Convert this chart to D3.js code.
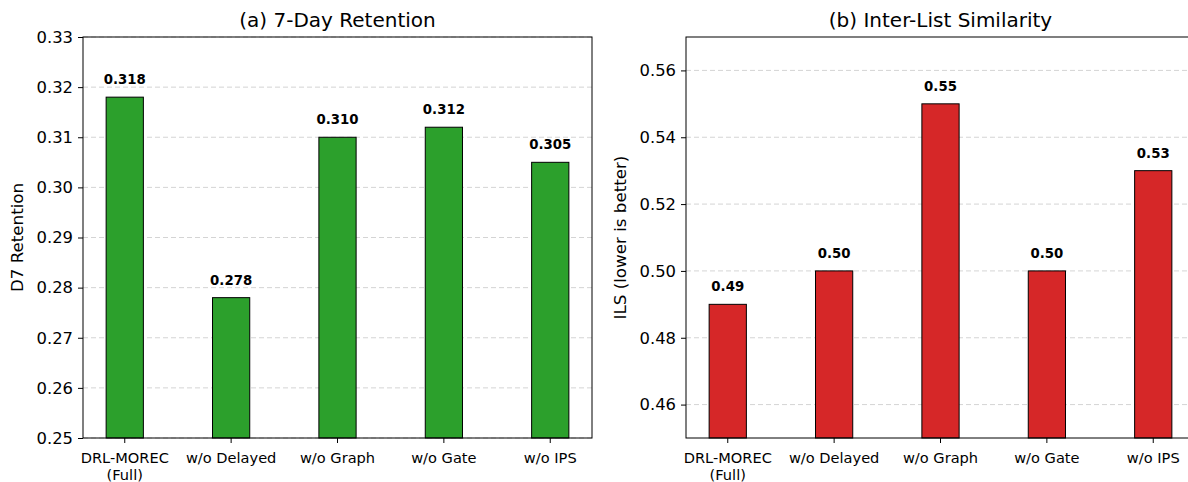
<!DOCTYPE html>
<html>
<head>
<meta charset="utf-8">
<script src="https://cdn.jsdelivr.net/npm/d3@7"></script>
<style>
  body { margin: 0; background: #fff; }
  svg { display: block; font-family: "DejaVu Sans", sans-serif; }
</style>
</head>
<body>
<div id="chart"></div>
<script>
const CATEGORIES = ["DRL-MOREC\n(Full)", "w/o Delayed", "w/o Graph", "w/o Gate", "w/o IPS"];
const RETENTION = [0.318, 0.278, 0.310, 0.312, 0.305];
const ILS = [0.49, 0.50, 0.55, 0.50, 0.53];
const RETENTION_TICKS = [0.25, 0.26, 0.27, 0.28, 0.29, 0.30, 0.31, 0.32, 0.33];
const ILS_TICKS = [0.46, 0.48, 0.50, 0.52, 0.54, 0.56];

var W = 1188, H = 482;
var svg = d3.select("#chart").append("svg")
  .attr("width", W).attr("height", H);

// one panel = one matplotlib-style axes box
function panel(opts) {
  var left = opts.left, top = 37, width = 509, height = 401;
  var g = svg.append("g").attr("transform", "translate(" + left + "," + top + ")");

  var x = d3.scaleBand()
    .domain(d3.range(CATEGORIES.length))
    .range([0, width])
    .paddingInner(0.65)
    .paddingOuter(0.2175);
  var y = d3.scaleLinear().domain(opts.domain).range([height, 0]);

  // dashed grid behind bars
  g.selectAll(".grid").data(opts.ticks).enter().append("line")
    .attr("x1", 0).attr("x2", width)
    .attr("y1", d => y(d)).attr("y2", d => y(d))
    .attr("stroke", "#cfcfcf").attr("stroke-width", 0.9)
    .attr("stroke-dasharray", "5,3");

  g.selectAll(".bar").data(opts.values).enter().append("rect")
    .attr("x", (d, i) => x(i))
    .attr("y", d => y(d))
    .attr("width", x.bandwidth())
    .attr("height", d => height - y(d))
    .attr("fill", opts.color)
    .attr("stroke", "#000").attr("stroke-width", 1);

  // value labels
  g.selectAll(".val").data(opts.values).enter().append("text")
    .attr("x", (d, i) => x(i) + x.bandwidth() / 2)
    .attr("y", d => y(d + opts.offset) - 3)
    .attr("text-anchor", "middle")
    .attr("font-size", 13.3).attr("font-weight", "bold")
    .text(d => d.toFixed(opts.digits));

  // y axis
  var ya = g.append("g").call(d3.axisLeft(y).tickValues(opts.ticks)
    .tickSize(5).tickPadding(5).tickFormat(d3.format(".2f")));
  ya.select(".domain").remove();
  ya.selectAll("text").attr("font-size", 16.4).attr("fill", "#000")
    .attr("font-family", "DejaVu Sans");
  ya.selectAll("line").attr("stroke", "#000");

  // x axis
  var xa = g.append("g").attr("transform", "translate(0," + height + ")")
    .call(d3.axisBottom(x).tickSize(5).tickPadding(4).tickFormat(""));
  xa.select(".domain").remove();
  xa.selectAll("line").attr("stroke", "#000");
  xa.selectAll(".tick").each(function(d) {
    var lines = CATEGORIES[d].split("\n");
    var t = d3.select(this).append("text")
      .attr("text-anchor", "middle")
      .attr("font-size", 14.6).attr("fill", "#000")
      .attr("font-family", "DejaVu Sans");
    lines.forEach(function(s, k) {
      t.append("tspan").attr("x", 0).attr("y", 25 + k * 16.5).text(s);
    });
  });

  // frame
  g.append("rect").attr("width", width).attr("height", height)
    .attr("fill", "none").attr("stroke", "#000").attr("stroke-width", 1);

  svg.append("text")
    .attr("x", left + width / 2).attr("y", 27)
    .attr("text-anchor", "middle").attr("font-size", 20)
    .text(opts.title);

  svg.append("text")
    .attr("transform", "translate(" + opts.labelX + "," + (top + height / 2) + ") rotate(-90)")
    .attr("text-anchor", "middle").attr("dy", "0.35em").attr("font-size", 16.7)
    .text(opts.ylabel);
}

panel({
  left: 83, domain: [0.25, 0.33], ticks: RETENTION_TICKS, values: RETENTION,
  color: "#2ca02c", offset: 0.002, digits: 3,
  title: "(a) 7-Day Retention", ylabel: "D7 Retention", labelX: 17
});
panel({
  left: 686, domain: [0.45, 0.57], ticks: ILS_TICKS, values: ILS,
  color: "#d62728", offset: 0.003, digits: 2,
  title: "(b) Inter-List Similarity", ylabel: "ILS (lower is better)", labelX: 620
});
</script>
</body>
</html>
